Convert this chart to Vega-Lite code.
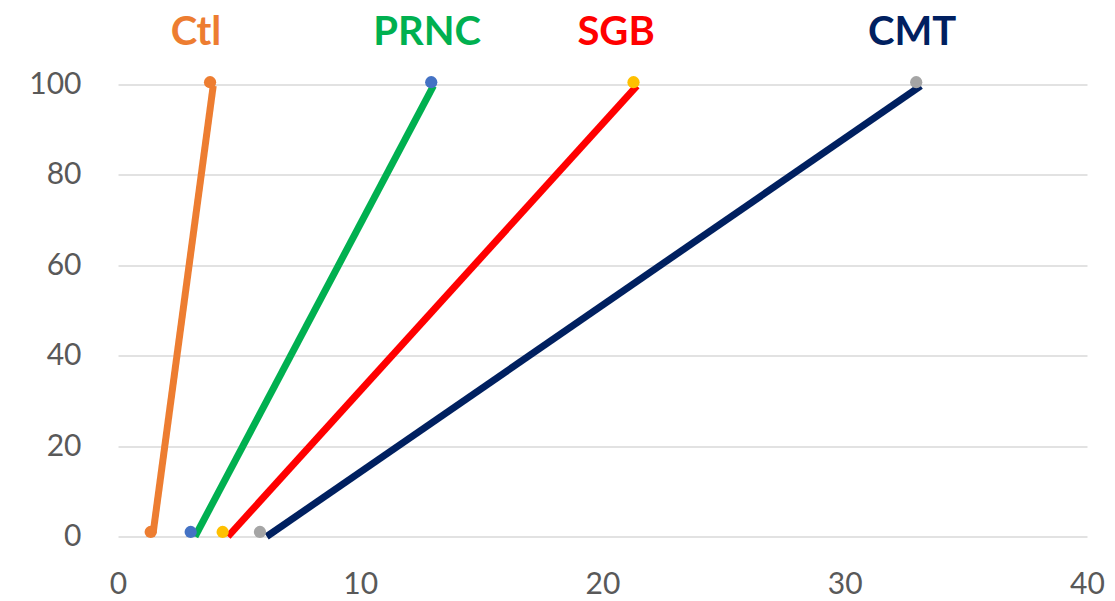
{
  "$schema": "https://vega.github.io/schema/vega-lite/v6.json",
  "autosize": {"type": "none"},
  "width": 969,
  "height": 452,
  "padding": {"left": 118, "top": 84.5, "right": 28, "bottom": 64.5},
  "background": "white",
  "config": {"view": {"stroke": null}, "font": "Lato"},
  "datasets": {
    "lines": [
      {"series": "Ctl", "x": 1.45, "y": 0.8},
      {"series": "Ctl", "x": 3.93, "y": 99.7},
      {"series": "PRNC", "x": 3.18, "y": 0},
      {"series": "PRNC", "x": 13.02, "y": 99.7},
      {"series": "SGB", "x": 4.54, "y": 0},
      {"series": "SGB", "x": 21.42, "y": 99.7},
      {"series": "CMT", "x": 6.14, "y": 0},
      {"series": "CMT", "x": 33.14, "y": 99.7}
    ],
    "dots": [
      {"series": "Ctl", "x": 1.35, "y": 1},
      {"series": "Ctl", "x": 3.8, "y": 100.5},
      {"series": "PRNC", "x": 3.0, "y": 1},
      {"series": "PRNC", "x": 12.93, "y": 100.5},
      {"series": "SGB", "x": 4.32, "y": 1},
      {"series": "SGB", "x": 21.28, "y": 100.5},
      {"series": "CMT", "x": 5.86, "y": 1},
      {"series": "CMT", "x": 32.95, "y": 100.5}
    ],
    "labels": [
      {"series": "Ctl", "x": 3.22, "y": 111.5},
      {"series": "PRNC", "x": 12.76, "y": 111.5},
      {"series": "SGB", "x": 20.56, "y": 111.5},
      {"series": "CMT", "x": 32.78, "y": 111.5}
    ]
  },
  "layer": [
    {
      "data": {"name": "lines"},
      "mark": {"type": "line", "strokeWidth": 7, "clip": false},
      "encoding": {
        "x": {"field": "x", "type": "quantitative",
          "scale": {"domain": [0, 40], "nice": false},
          "axis": {"values": [0, 10, 20, 30, 40], "title": null, "grid": false, "domain": false, "ticks": false, "labelFlush": false,
            "labelFontSize": 30, "labelColor": "#595959", "labelPadding": 33, "labelFont": "Lato"}},
        "y": {"field": "y", "type": "quantitative",
          "scale": {"domain": [0, 100], "nice": false},
          "axis": {"values": [0, 20, 40, 60, 80, 100], "title": null, "grid": true, "gridColor": "#D9D9D9", "gridWidth": 1.5,
            "domain": false, "ticks": false, "labelFlush": false, "labelFontSize": 30, "labelColor": "#595959", "labelPadding": 37, "labelFont": "Lato"}},
        "color": {"field": "series", "type": "nominal",
          "scale": {"domain": ["Ctl", "PRNC", "SGB", "CMT"], "range": ["#ED7D31", "#00B050", "#FF0000", "#002060"]},
          "legend": null},
        "detail": {"field": "series"}
      }
    },
    {
      "data": {"name": "dots"},
      "mark": {"type": "circle", "size": 150, "opacity": 1, "clip": false},
      "encoding": {
        "x": {"field": "x", "type": "quantitative"},
        "y": {"field": "y", "type": "quantitative"},
        "fill": {"field": "series", "type": "nominal",
          "scale": {"domain": ["Ctl", "PRNC", "SGB", "CMT"], "range": ["#ED7D31", "#4472C4", "#FFC000", "#A5A5A5"]},
          "legend": null}
      }
    },
    {
      "data": {"name": "labels"},
      "mark": {"type": "text", "fontSize": 40, "fontWeight": "bold", "font": "Lato", "baseline": "middle", "align": "center"},
      "encoding": {
        "x": {"field": "x", "type": "quantitative"},
        "y": {"field": "y", "type": "quantitative"},
        "text": {"field": "series"},
        "color": {"field": "series", "type": "nominal", "legend": null}
      }
    }
  ]
}
